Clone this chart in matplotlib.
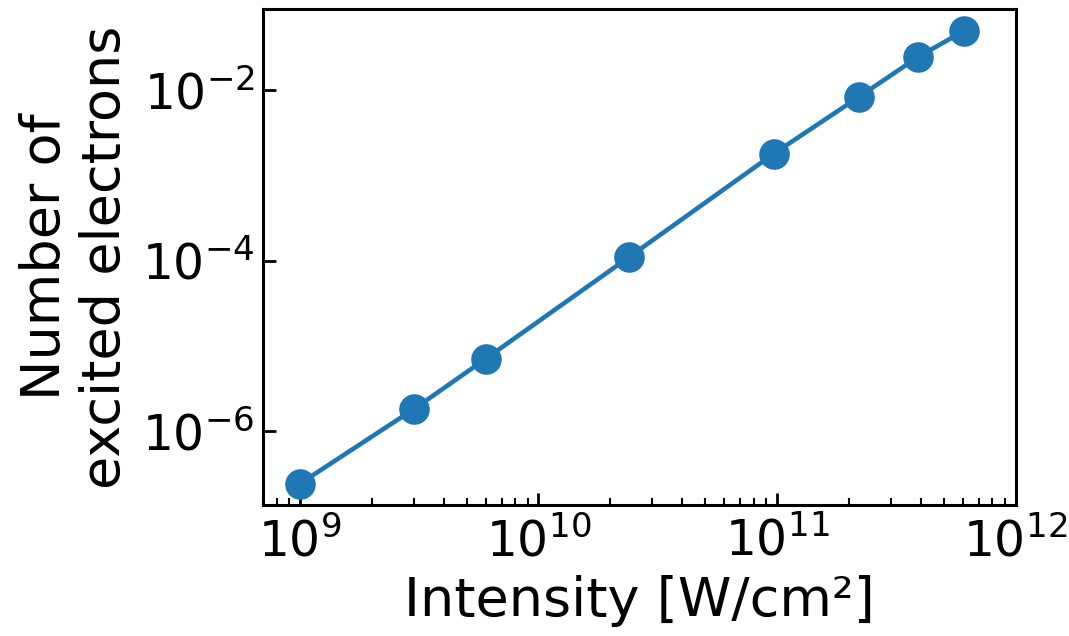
import matplotlib
matplotlib.use("Agg")
import matplotlib.pyplot as plt
import matplotlib.ticker as mticker

intensity = [1.0e9, 3.0e9, 6.0e9, 2.4e10, 9.7e10, 2.2e11, 3.9e11, 6.1e11]
excited = [2.4e-7, 1.8e-6, 7.0e-6, 1.1e-4, 1.8e-3, 8.3e-3, 2.45e-2, 5.0e-2]
xlabel = "Intensity [W/cm²]"
ylabel = "Number of\nexcited electrons"

fig = plt.figure(figsize=(10.69, 6.36), dpi=100)
ax = fig.add_axes([0.246, 0.206, 0.704, 0.780])
ax.plot(intensity, excited, "-o", color="#1f77b4", lw=3.3, ms=21)
ax.set_xscale("log")
ax.set_yscale("log")
ax.set_xlim(7.0e8, 1.0e12)
ax.set_ylim(1.35e-7, 9.0e-2)
ax.yaxis.set_major_locator(mticker.FixedLocator([1e-6, 1e-4, 1e-2]))
ax.yaxis.set_minor_locator(mticker.NullLocator())
ax.tick_params(which="both", direction="in", labelsize=35, width=2)
ax.tick_params(which="major", length=9)
ax.tick_params(which="minor", length=5, width=1.5)
ax.tick_params(axis="x", pad=9)
ax.tick_params(axis="y", pad=6)
for s in ax.spines.values():
    s.set_linewidth(2.2)
ax.set_xlabel(xlabel, fontsize=39, labelpad=6)
ax.set_ylabel(ylabel, fontsize=39, labelpad=8)
fig.savefig("out.png", dpi=100)
